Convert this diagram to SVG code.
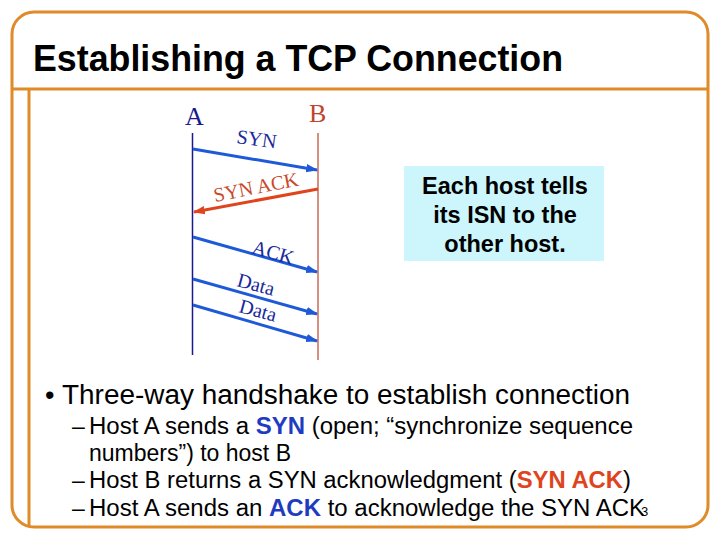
<svg xmlns="http://www.w3.org/2000/svg" width="720" height="540" viewBox="0 0 720 540">
<defs>
<style>
.frame{fill:none;stroke:#e08a28;stroke-width:3}
.title{font-family:"Liberation Sans",Arial,sans-serif;font-weight:bold;font-size:37px;fill:#000}
.host{font-family:"Liberation Serif","Times New Roman",serif;font-size:26px}
.lbl{font-family:"Liberation Serif","Times New Roman",serif;font-size:20px}
.blue{stroke:#1e5ad8;stroke-width:3;fill:none}
.red{stroke:#e0441c;stroke-width:3;fill:none}
.note{font-family:"Liberation Sans",Arial,sans-serif;font-weight:bold;font-size:23.5px;fill:#000}
.b1{font-family:"Liberation Sans",Arial,sans-serif;font-size:27px;fill:#000}
.b2{font-family:"Liberation Sans",Arial,sans-serif;font-size:23px;fill:#000}
.kb{fill:#1f3cc0;font-weight:bold}
.kr{fill:#e0441c;font-weight:bold}
</style>
<marker id="ab" viewBox="0 0 10 10" refX="9" refY="5" markerWidth="4" markerHeight="4" orient="auto" markerUnits="strokeWidth"><path d="M0,1.5 L10,5 L0,8.5 z" fill="#1e5ad8"/></marker>
<marker id="ar" viewBox="0 0 10 10" refX="9" refY="5" markerWidth="4" markerHeight="4" orient="auto" markerUnits="strokeWidth"><path d="M0,1.5 L10,5 L0,8.5 z" fill="#e0441c"/></marker>
</defs>
<rect width="720" height="540" fill="#fff"/>
<g id="frame">
<rect class="frame" x="12" y="12" width="696" height="515" rx="22" ry="22"/>
<line class="frame" x1="12" y1="89" x2="708" y2="89"/>
<line class="frame" x1="29" y1="89" x2="29" y2="527"/>
</g>
<g id="title"><text class="title" x="33" y="71" textLength="530" lengthAdjust="spacingAndGlyphs">Establishing a TCP Connection</text></g>
<g id="hostA">
<text class="host" x="185" y="125" fill="#1a1a8c">A</text>
<line x1="192.5" y1="133" x2="192.5" y2="355" stroke="#1a1a8c" stroke-width="1.5"/>
</g>
<g id="hostB">
<text class="host" x="309" y="122" fill="#c0442a">B</text>
<line x1="318" y1="133" x2="318" y2="360" stroke="#c0442a" stroke-width="1.2"/>
</g>
<g id="connectors">
<line class="blue" x1="193" y1="149" x2="317" y2="170" marker-end="url(#ab)"/>
<line class="red" x1="318" y1="189" x2="194" y2="212" marker-end="url(#ar)"/>
<line class="blue" x1="193" y1="237" x2="317" y2="272" marker-end="url(#ab)"/>
<line class="blue" x1="193" y1="279" x2="317" y2="314" marker-end="url(#ab)"/>
<line class="blue" x1="193" y1="305" x2="317" y2="341" marker-end="url(#ab)"/>
</g>
<g id="labels">
<text class="lbl" fill="#1a2a9a" transform="translate(236,143) rotate(8)">SYN</text>
<text class="lbl" fill="#c84a2a" transform="translate(215,202) rotate(-11)">SYN ACK</text>
<text class="lbl" fill="#1a2a9a" transform="translate(251,253) rotate(16)">ACK</text>
<text class="lbl" fill="#1a2a9a" transform="translate(236,286) rotate(15)">Data</text>
<text class="lbl" fill="#1a2a9a" transform="translate(238,312) rotate(15)">Data</text>
</g>
<g id="note">
<rect x="404" y="166" width="200" height="95" fill="#ccf5fc"/>
<text class="note" x="505" y="194" text-anchor="middle">Each host tells</text>
<text class="note" x="505" y="223" text-anchor="middle">its ISN to the</text>
<text class="note" x="505" y="252" text-anchor="middle">other host.</text>
</g>
<g id="bullets">
<text class="b1" x="45" y="404">•</text>
<text class="b1" x="62" y="404" textLength="568" lengthAdjust="spacingAndGlyphs">Three-way handshake to establish connection</text>
<text class="b2" x="72" y="434">–</text>
<text class="b2" x="89" y="434" textLength="544" lengthAdjust="spacingAndGlyphs">Host A sends a <tspan class="kb">SYN</tspan> (open; “synchronize sequence</text>
<text class="b2" x="89" y="461">numbers”) to host B</text>
<text class="b2" x="72" y="488">–</text>
<text class="b2" x="89" y="488" textLength="542" lengthAdjust="spacingAndGlyphs">Host B returns a SYN acknowledgment (<tspan class="kr">SYN ACK</tspan>)</text>
<text class="b2" x="72" y="516">–</text>
<text class="b2" x="89" y="516" textLength="556" lengthAdjust="spacingAndGlyphs">Host A sends an <tspan class="kb">ACK</tspan> to acknowledge the SYN ACK</text>
<text x="641" y="516" font-family="Liberation Sans,Arial,sans-serif" font-size="13" fill="#000">3</text>
</g>
</svg>
